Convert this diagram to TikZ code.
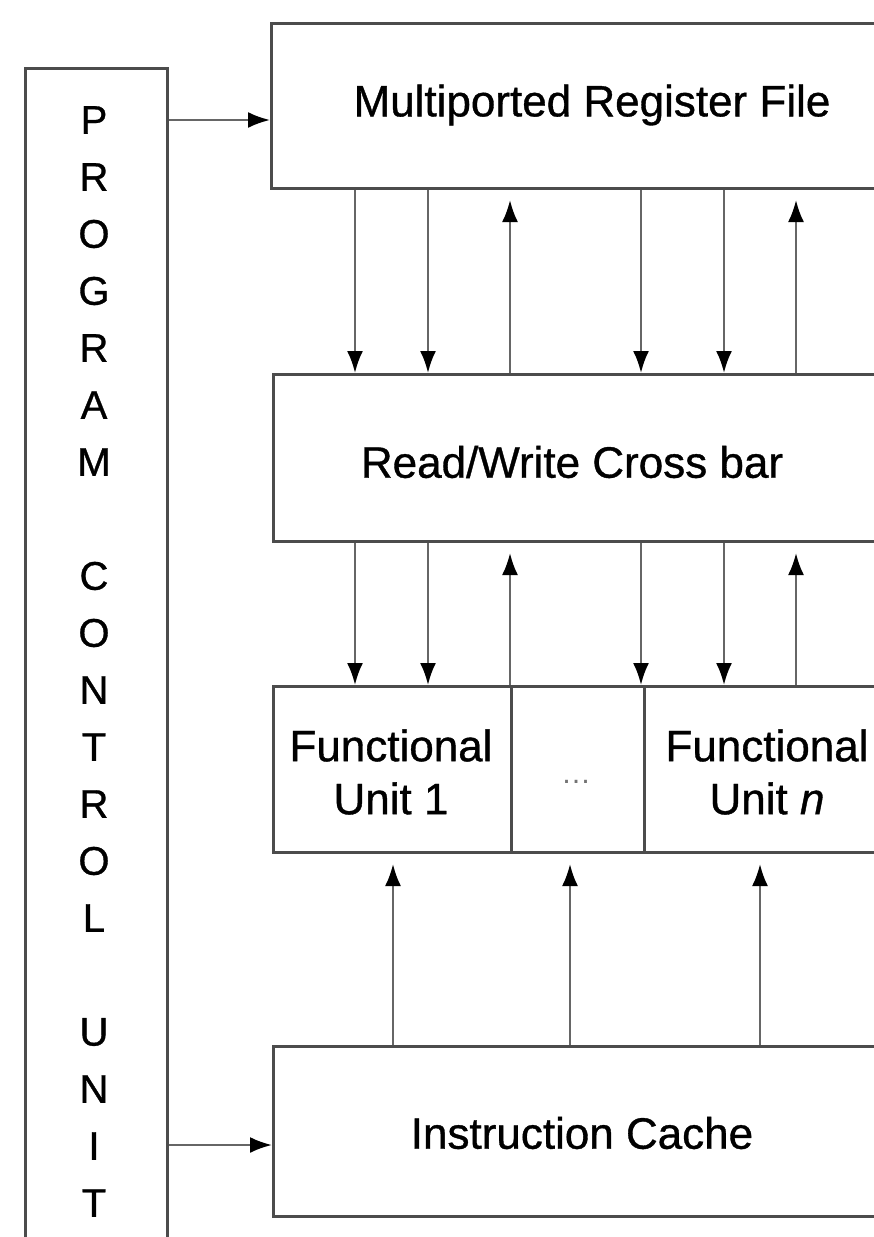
\documentclass[tikz,border=0pt]{standalone}
\usepackage{fontspec}
\setmainfont{Liberation Sans}
\newfontfamily\heavyfont[FakeBold=0.8]{Liberation Sans}
\usetikzlibrary{arrows.meta}
\begin{document}
\begin{tikzpicture}[x=1pt,y=-1pt,
  box/.style={draw=black!70, line width=3pt, rectangle, inner sep=0pt, anchor=north west},
  lbl/.style={font=\heavyfont\fontsize{44}{53}\selectfont, inner sep=0pt, align=center},
  letter/.style={font=\heavyfont\fontsize{40}{40}\selectfont, inner sep=0pt},
  conn/.style={draw=black!60, line width=2.4pt, -{Latex[length=22pt,width=16pt,black]}}]
\useasboundingbox (0,0) rectangle (874,1237);
\clip (0,0) rectangle (874,1237);
\fill[white] (0,0) rectangle (874,1237);
% boxes
\node[box, minimum width=142pt, minimum height=1200pt] (pcu) at (24,67) {};
\node[box, minimum width=640pt, minimum height=165pt] (rf) at (270,22) {};
\node[box, minimum width=620pt, minimum height=167pt] (xb) at (272,373) {};
\node[box, minimum width=238pt, minimum height=166pt] (fu1) at (272,685) {};
\node[box, minimum width=133pt, minimum height=166pt] (fud) at (510,685) {};
\node[box, minimum width=250pt, minimum height=166pt] (fun) at (643,685) {};
\node[box, minimum width=620pt, minimum height=170pt] (ic) at (272,1045) {};
% labels
\node[lbl] (rft) at (592,105) {Multiported Register File};
\node[lbl] (xbt) at (572,462) {Read/Write Cross bar};
\node[lbl] (fu1t) at (391,772) {Functional\\Unit 1};
\node[font=\fontsize{30}{30}\selectfont, text=black!55, inner sep=0pt] (fudt) at (576,782) {\dots};
\node[lbl] (funt) at (767,772) {Functional\\Unit \textit{n}};
\node[lbl] (ict) at (582,1133) {Instruction Cache};
\foreach \ch/\k in {P/0,R/1,O/2,G/3,R/4,A/5,M/6,C/8,O/9,N/10,T/11,R/12,O/13,L/14,U/16,N/17,I/18,T/19}
  \node[letter] (L\k) at (94,{120+57*\k}) {\ch};
% PCU connections
\draw[conn] (pcu.east |- 0,120) -- (rf.west |- 0,120);
\draw[conn] (pcu.east |- 0,1145) -- (ic.west |- 0,1145);
% register file <-> crossbar
\foreach \x in {355,428,641,724}
  \draw[conn] (\x,0 |- rf.south) -- (\x,0 |- xb.north);
\foreach \x in {510,796}
  \draw[conn, shorten >=10pt] (\x,0 |- xb.north) -- (\x,0 |- rf.south);
% crossbar <-> functional units
\foreach \x in {355,428}
  \draw[conn] (\x,0 |- xb.south) -- (\x,0 |- fu1.north);
\foreach \x in {641,724}
  \draw[conn] (\x,0 |- xb.south) -- (\x,0 |- fun.north);
\draw[conn, shorten >=10pt] (510,0 |- fu1.north) -- (510,0 |- xb.south);
\draw[conn, shorten >=10pt] (796,0 |- fun.north) -- (796,0 |- xb.south);
% instruction cache -> functional units
\draw[conn, shorten >=10pt] (393,0 |- ic.north) -- (393,0 |- fu1.south);
\draw[conn, shorten >=10pt] (570,0 |- ic.north) -- (570,0 |- fud.south);
\draw[conn, shorten >=10pt] (760,0 |- ic.north) -- (760,0 |- fun.south);
\end{tikzpicture}
\end{document}
